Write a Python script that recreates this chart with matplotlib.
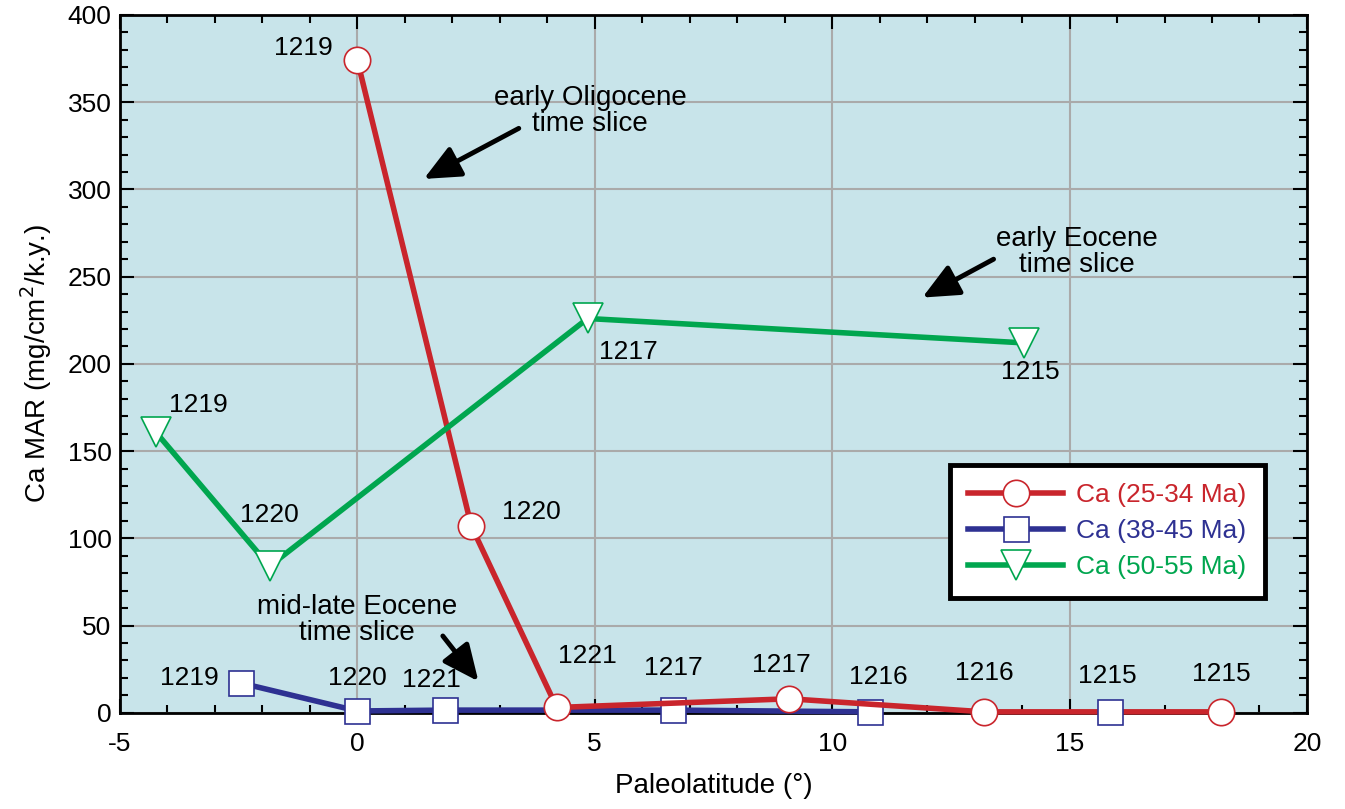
import numpy as np
import matplotlib.pyplot as plt
from matplotlib.ticker import MultipleLocator

plt.rcParams['font.family'] = ['Liberation Sans', 'DejaVu Sans']
plt.rcParams['axes.unicode_minus'] = False

# Data
red_x = [0.0, 2.4, 4.2, 9.1, 13.2, 18.2]
red_y = [374, 107, 3, 8, 0.5, 0.5]
red_lab = ['1219', '1220', '1221', '1217', '1216', '1215']

blue_x = [-2.45, 0.0, 1.85, 6.65, 10.8]
blue_y = [17, 1, 1.5, 1.5, 0.5]
blue_lab = ['1219', '1220', '1221', '1217', '1216']
blue_extra_x = [15.85]
blue_extra_y = [0.5]
blue_extra_lab = ['1215']

green_x = [-4.25, -1.85, 4.85, 14.05]
green_y = [161, 84, 226, 212]
green_lab = ['1219', '1220', '1217', '1215']

RED = '#c9252c'
BLUE = '#2e3192'
GREEN = '#00a64f'

fig = plt.figure(figsize=(13.45, 8.09), dpi=100)
ax = fig.add_axes([0.0892, 0.119, 0.8825, 0.8625])
ax.set_facecolor('#c8e4ea')

ax.plot(red_x, red_y, '-o', color=RED, lw=4, ms=19, mfc='white', mec=RED, mew=1.2,
        label='Ca (25-34 Ma)', zorder=4, clip_on=False)
ax.plot(blue_x, blue_y, '-s', color=BLUE, lw=4, ms=18, mfc='white', mec=BLUE, mew=1.2,
        label='Ca (38-45 Ma)', zorder=3, clip_on=False)
ax.plot(blue_extra_x, blue_extra_y, 's', ms=18, mfc='white', mec=BLUE, mew=1.2, zorder=5,
        clip_on=False)
ax.plot(green_x, green_y, '-v', color=GREEN, lw=4, ms=21, mfc='white', mec=GREEN, mew=1.2,
        label='Ca (50-55 Ma)', zorder=4, clip_on=False)

# point labels (offsets in points)
fs = 19
red_off = [(-39, 9), (43, 10), (22, 37), (-6, 24), (0, 28), (0, 27)]
for x, y, t, o in zip(red_x, red_y, red_lab, red_off):
    ax.annotate(t, (x, y), xytext=o, textcoords='offset points', ha='center', va='center', fontsize=fs)
blue_off = [(-37, 4), (0, 24), (-10, 22), (0, 30), (6, 25)]
for x, y, t, o in zip(blue_x, blue_y, blue_lab, blue_off):
    ax.annotate(t, (x, y), xytext=o, textcoords='offset points', ha='center', va='center', fontsize=fs)
ax.annotate(blue_extra_lab[0], (blue_extra_x[0], blue_extra_y[0]), xytext=(-2, 26),
            textcoords='offset points', ha='center', va='center', fontsize=fs)
green_off = [(31, 19), (0, 37), (29, -24), (4, -21)]
for x, y, t, o in zip(green_x, green_y, green_lab, green_off):
    ax.annotate(t, (x, y), xytext=o, textcoords='offset points', ha='center', va='center', fontsize=fs)

# time slice annotations
arrow = dict(arrowstyle='-|>,head_length=2.2,head_width=1.0', color='black', lw=3.5,
             shrinkA=0, shrinkB=0)
ax.text(4.9, 345, 'early Oligocene\ntime slice', ha='center', va='center', fontsize=20, linespacing=1.0)
ax.annotate('', xy=(1.4, 306), xytext=(3.4, 335), arrowprops=arrow)
ax.text(15.15, 264, 'early Eocene\ntime slice', ha='center', va='center', fontsize=20, linespacing=1.0)
ax.annotate('', xy=(11.9, 238), xytext=(13.4, 260), arrowprops=arrow)
ax.text(0.0, 53, 'mid-late Eocene\ntime slice', ha='center', va='center', fontsize=20, linespacing=1.0)
ax.annotate('', xy=(2.55, 18), xytext=(1.8, 44), arrowprops=arrow)

ax.set_xlim(-5, 20)
ax.set_ylim(0, 400)
ax.xaxis.set_major_locator(MultipleLocator(5))
ax.xaxis.set_minor_locator(MultipleLocator(1))
ax.yaxis.set_major_locator(MultipleLocator(50))
ax.yaxis.set_minor_locator(MultipleLocator(10))
ax.grid(True, which='major', color='#aaaaaa', lw=1.5)
ax.set_axisbelow(True)
ax.tick_params(which='both', direction='in', top=True, right=True, width=1.5, labelsize=19)
ax.tick_params(which='major', length=10)
ax.tick_params(which='minor', length=6)
ax.tick_params(axis='x', pad=14)
ax.tick_params(axis='y', pad=6)
for s in ax.spines.values():
    s.set_linewidth(2)

ax.set_xlabel('Paleolatitude (°)', fontsize=20, labelpad=12)
ax.set_ylabel('Ca MAR (mg/cm$^2$/k.y.)', fontsize=20, labelpad=10)

leg = ax.legend(loc='upper left', bbox_to_anchor=(0.699, 0.355), fontsize=19, frameon=True,
                fancybox=False, edgecolor='black', facecolor='white', framealpha=1,
                handlelength=3.6, borderpad=0.7, labelspacing=0.45, handletextpad=0.5,
                borderaxespad=0)
leg.get_frame().set_linewidth(3.5)
for txt, c in zip(leg.get_texts(), [RED, BLUE, GREEN]):
    txt.set_color(c)

fig.savefig('out.png', dpi=100)
